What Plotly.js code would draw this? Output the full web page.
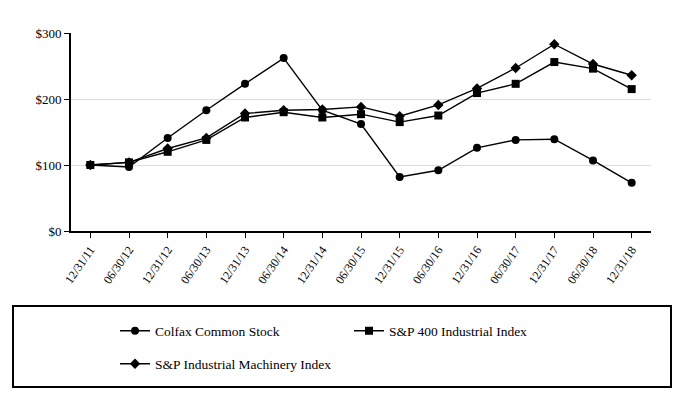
<!DOCTYPE html>
<html>
<head>
<meta charset="utf-8">
<script src="https://cdn.plot.ly/plotly-3.0.1.min.js"></script>
<style>
  html, body { margin: 0; padding: 0; background: #fff; }
  #chart { width: 684px; height: 400px; }
</style>
</head>
<body>
<div id="chart"></div>
<script>
// Cumulative total return, $100 invested 12/31/11
const dates = ['12/31/11', '06/30/12', '12/31/12', '06/30/13', '12/31/13', '06/30/14', '12/31/14', '06/30/15',
  '12/31/15', '06/30/16', '12/31/16', '06/30/17', '12/31/17', '06/30/18', '12/31/18'];
const colfax    = [100, 97, 141, 183, 223, 262, 183, 162, 82, 92, 126, 138, 139, 107, 73];
const sp400     = [100, 104, 120, 138, 172, 180, 172, 177, 165, 175, 209, 223, 256, 246, 215];
const machinery = [100, 104, 125, 141, 178, 183, 184, 188, 174, 191, 216, 247, 283, 253, 236];
const yTicks = [0, 100, 200, 300];
const yLabels = ['$0', '$100', '$200', '$300'];

const FONT = 'Liberation Serif';

function series(name, y, symbol, size, legend) {
  return {
    type: 'scatter', mode: 'lines+markers', name: name,
    x: dates, y: y, legend: legend,
    line: { color: '#000', width: 1.4 },
    marker: { color: '#000', symbol: symbol, size: size }
  };
}

const data = [
  series('Colfax Common Stock', colfax, 'circle', 8, 'legend'),
  series('S&P 400 Industrial Index', sp400, 'square', 8, 'legend'),
  series('S&P Industrial Machinery Index', machinery, 'diamond', 8, 'legend2')
];

const legendBase = {
  orientation: 'h', xref: 'paper', yref: 'paper', xanchor: 'left', yanchor: 'middle',
  bgcolor: 'rgba(0,0,0,0)', borderwidth: 0, itemsizing: 'trace',
  font: { family: FONT, size: 13.5, color: '#000' }, entrywidth: 189, entrywidthmode: 'pixels'
};

const layout = {
  width: 684, height: 400,
  margin: { l: 71, r: 33, t: 33, b: 169 },
  paper_bgcolor: '#fff', plot_bgcolor: '#fff',
  font: { family: FONT, color: '#000' },
  showlegend: true,
  xaxis: {
    type: 'category', range: [-0.5, 14.5], autorange: false,
    showline: true, linecolor: '#000', linewidth: 2,
    ticks: 'outside', ticklen: 5, tickcolor: '#000', tickwidth: 1,
    tickangle: -55, tickfont: { family: FONT, size: 12, color: '#000' },
    showgrid: false, zeroline: false
  },
  yaxis: {
    range: [0, 300], autorange: false,
    tickvals: yTicks, ticktext: yLabels,
    showline: true, linecolor: '#000', linewidth: 2,
    ticks: 'outside', ticklen: 5, tickcolor: '#000', tickwidth: 1,
    tickfont: { family: FONT, size: 13, color: '#000' },
    showgrid: true, gridcolor: '#dddddd', gridwidth: 1, zeroline: false
  },
  legend: Object.assign({}, legendBase, { x: (115 - 71) / 580, y: -(331 - 231) / 198 }),
  legend2: Object.assign({}, legendBase, { x: (115 - 71) / 580, y: -(364 - 231) / 198 }),
  shapes: [{
    type: 'rect', xref: 'paper', yref: 'paper',
    x0: (13 - 71) / 580, x1: (671 - 71) / 580,
    y0: -(387 - 231) / 198, y1: -(306 - 231) / 198,
    line: { color: '#000', width: 2 }, fillcolor: 'rgba(0,0,0,0)'
  }]
};

Plotly.newPlot('chart', data, layout, { staticPlot: true, displayModeBar: false });
</script>
</body>
</html>
